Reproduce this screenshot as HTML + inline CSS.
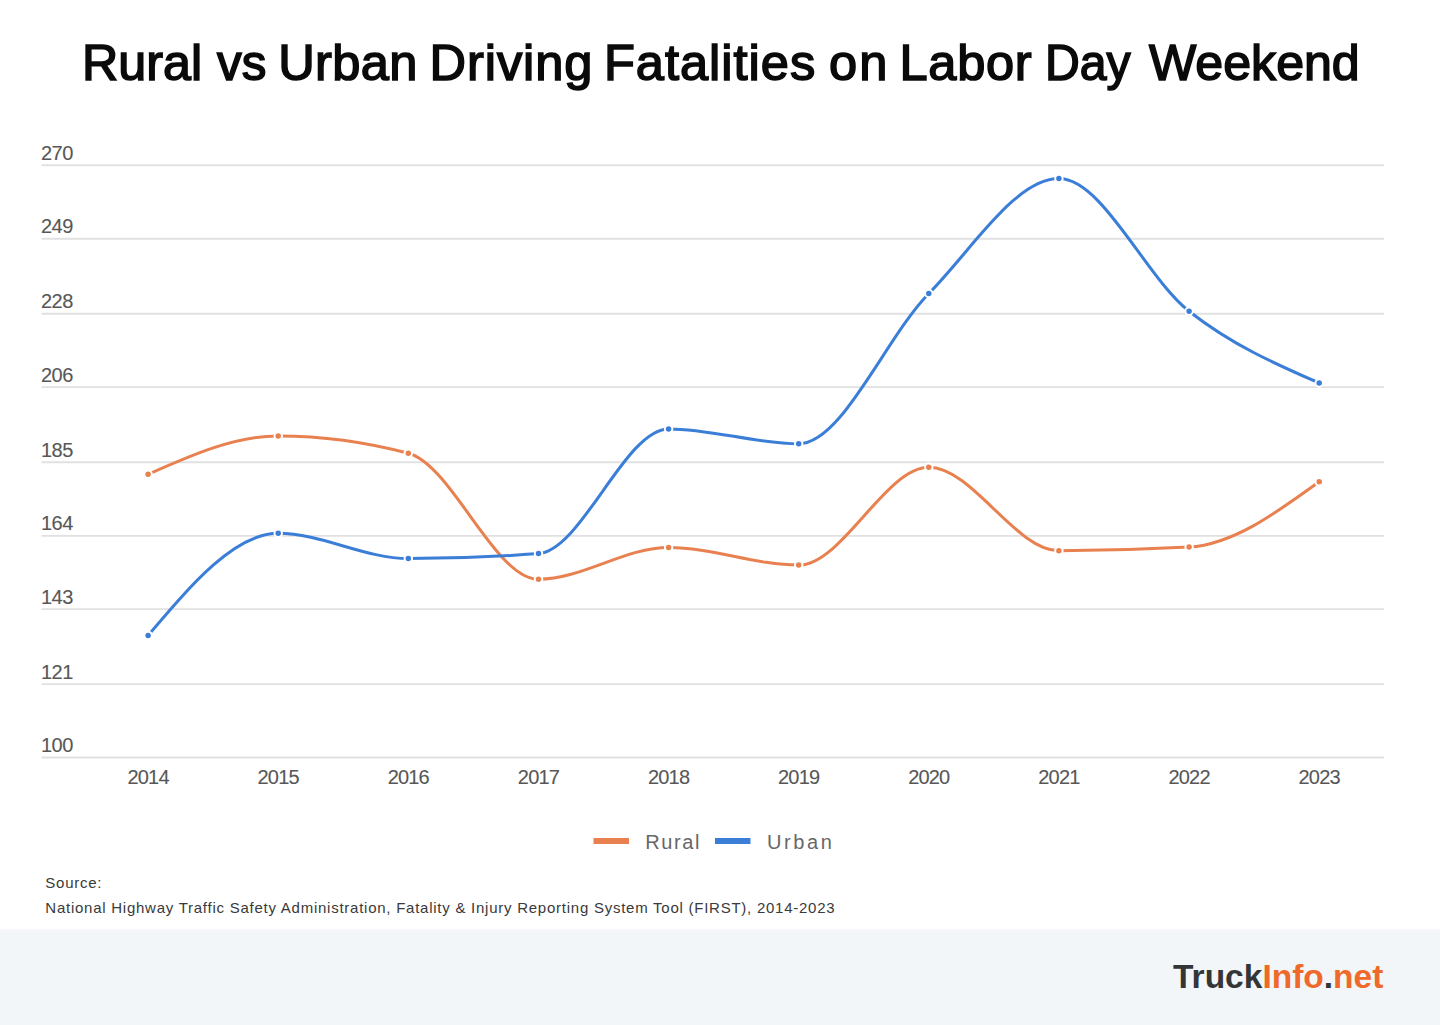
<!DOCTYPE html>
<html><head><meta charset="utf-8"><title>Rural vs Urban Driving Fatalities on Labor Day Weekend</title>
<style>
html,body{margin:0;padding:0;background:#fff;}
body{width:1440px;height:1025px;position:relative;overflow:hidden;font-family:"Liberation Sans",sans-serif;}
.title{position:absolute;left:0;width:1440px;top:37.6px;height:60px;font-size:50.6px;line-height:1;color:#0a0a0a;-webkit-text-stroke:1.6px #0a0a0a;white-space:nowrap;}
.title span{position:absolute;top:0;transform-origin:0 0;}
.yl{font-family:"Liberation Sans",sans-serif;font-size:20px;fill:#575757;letter-spacing:-0.5px;stroke:#575757;stroke-width:0.1px;}
.xl{font-family:"Liberation Sans",sans-serif;font-size:20px;fill:#575757;letter-spacing:-0.8px;stroke:#575757;stroke-width:0.1px;}
.leg{position:absolute;font-size:20px;line-height:1;color:#676767;white-space:nowrap;}
.src{position:absolute;left:45.3px;font-size:15px;line-height:1;color:#3a3a3a;white-space:nowrap;letter-spacing:0.75px;}
.footer{position:absolute;left:0;top:929px;width:1440px;height:96px;background:linear-gradient(#f6f8fb 0px,#f2f6f9 6px,#f2f6f9 100%);}
.logo{position:absolute;font-weight:bold;font-size:33.5px;line-height:1;white-space:nowrap;color:#343537;}
.logo .o{color:#ef6a2a;}
</style></head>
<body>
<div class="title" id="title"><span style="left:81.5px;transform:scaleX(0.993)">Rural</span><span style="left:217.25px;transform:scaleX(0.975)">vs</span><span style="left:278.25px;letter-spacing:0.31px">Urban</span><span style="left:429.5px;letter-spacing:0.92px">Driving</span><span style="left:604px;letter-spacing:0.97px">Fatalities</span><span style="left:829px;letter-spacing:2px">on</span><span style="left:899.5px;letter-spacing:0.69px">Labor</span><span style="left:1044.5px;transform:scaleX(0.952)">Day</span><span style="left:1148.5px;transform:scaleX(0.99)">Weekend</span></div>
<svg width="1440" height="930" viewBox="0 0 1440 930" style="position:absolute;left:0;top:0">
<line x1="41.5" y1="165.2" x2="1384" y2="165.2" stroke="#e1e1e1" stroke-width="1.9"/>
<line x1="41.5" y1="238.7" x2="1384" y2="238.7" stroke="#e1e1e1" stroke-width="1.9"/>
<line x1="41.5" y1="313.8" x2="1384" y2="313.8" stroke="#e1e1e1" stroke-width="1.9"/>
<line x1="41.5" y1="387.1" x2="1384" y2="387.1" stroke="#e1e1e1" stroke-width="1.9"/>
<line x1="41.5" y1="462.2" x2="1384" y2="462.2" stroke="#e1e1e1" stroke-width="1.9"/>
<line x1="41.5" y1="535.9" x2="1384" y2="535.9" stroke="#e1e1e1" stroke-width="1.9"/>
<line x1="41.5" y1="609.1" x2="1384" y2="609.1" stroke="#e1e1e1" stroke-width="1.9"/>
<line x1="41.5" y1="684.1" x2="1384" y2="684.1" stroke="#e1e1e1" stroke-width="1.9"/>
<line x1="41.5" y1="757.5" x2="1384" y2="757.5" stroke="#e1e1e1" stroke-width="1.9"/>
<text x="41" y="159.7" class="yl">270</text>
<text x="41" y="233.2" class="yl">249</text>
<text x="41" y="308.3" class="yl">228</text>
<text x="41" y="381.6" class="yl">206</text>
<text x="41" y="456.7" class="yl">185</text>
<text x="41" y="530.4" class="yl">164</text>
<text x="41" y="603.6" class="yl">143</text>
<text x="41" y="678.6" class="yl">121</text>
<text x="41" y="752.0" class="yl">100</text>
<text x="148.1" y="783.6" class="xl" text-anchor="middle">2014</text>
<text x="278.2" y="783.6" class="xl" text-anchor="middle">2015</text>
<text x="408.3" y="783.6" class="xl" text-anchor="middle">2016</text>
<text x="538.5" y="783.6" class="xl" text-anchor="middle">2017</text>
<text x="668.6" y="783.6" class="xl" text-anchor="middle">2018</text>
<text x="798.7" y="783.6" class="xl" text-anchor="middle">2019</text>
<text x="928.8" y="783.6" class="xl" text-anchor="middle">2020</text>
<text x="1058.9" y="783.6" class="xl" text-anchor="middle">2021</text>
<text x="1189.1" y="783.6" class="xl" text-anchor="middle">2022</text>
<text x="1319.2" y="783.6" class="xl" text-anchor="middle">2023</text>
<path d="M148.10,474.30 C191.47,455.10 234.85,435.90 278.22,435.90 C321.59,435.90 364.97,441.67 408.34,453.20 C451.71,464.73 495.09,579.30 538.46,579.30 C581.83,579.30 625.21,547.40 668.58,547.40 C711.95,547.40 755.33,565.10 798.70,565.10 C842.07,565.10 885.45,467.30 928.82,467.30 C972.19,467.30 1015.57,550.70 1058.94,550.70 C1102.31,550.70 1145.69,549.50 1189.06,547.10 C1232.43,544.70 1275.81,513.25 1319.18,481.80" fill="none" stroke="#e8804f" stroke-width="3" stroke-linejoin="round" stroke-linecap="round"/>
<path d="M148.10,635.40 C191.47,584.35 234.85,533.30 278.22,533.30 C321.59,533.30 364.97,558.60 408.34,558.60 C451.71,558.60 495.09,556.93 538.46,553.60 C581.83,550.27 625.21,428.90 668.58,428.90 C711.95,428.90 755.33,443.80 798.70,443.80 C842.07,443.80 885.45,337.70 928.82,293.50 C972.19,249.30 1015.57,178.60 1058.94,178.60 C1102.31,178.60 1145.69,277.13 1189.06,311.20 C1232.43,345.27 1275.81,364.13 1319.18,383.00" fill="none" stroke="#3b7ed8" stroke-width="3" stroke-linejoin="round" stroke-linecap="round"/>
<circle cx="148.1" cy="474.3" r="3.75" fill="#e8804f" stroke="#fff" stroke-width="2"/>
<circle cx="278.2" cy="435.9" r="3.75" fill="#e8804f" stroke="#fff" stroke-width="2"/>
<circle cx="408.3" cy="453.2" r="3.75" fill="#e8804f" stroke="#fff" stroke-width="2"/>
<circle cx="538.5" cy="579.3" r="3.75" fill="#e8804f" stroke="#fff" stroke-width="2"/>
<circle cx="668.6" cy="547.4" r="3.75" fill="#e8804f" stroke="#fff" stroke-width="2"/>
<circle cx="798.7" cy="565.1" r="3.75" fill="#e8804f" stroke="#fff" stroke-width="2"/>
<circle cx="928.8" cy="467.3" r="3.75" fill="#e8804f" stroke="#fff" stroke-width="2"/>
<circle cx="1058.9" cy="550.7" r="3.75" fill="#e8804f" stroke="#fff" stroke-width="2"/>
<circle cx="1189.1" cy="547.1" r="3.75" fill="#e8804f" stroke="#fff" stroke-width="2"/>
<circle cx="1319.2" cy="481.8" r="3.75" fill="#e8804f" stroke="#fff" stroke-width="2"/>
<circle cx="148.1" cy="635.4" r="3.75" fill="#3b7ed8" stroke="#fff" stroke-width="2"/>
<circle cx="278.2" cy="533.3" r="3.75" fill="#3b7ed8" stroke="#fff" stroke-width="2"/>
<circle cx="408.3" cy="558.6" r="3.75" fill="#3b7ed8" stroke="#fff" stroke-width="2"/>
<circle cx="538.5" cy="553.6" r="3.75" fill="#3b7ed8" stroke="#fff" stroke-width="2"/>
<circle cx="668.6" cy="428.9" r="3.75" fill="#3b7ed8" stroke="#fff" stroke-width="2"/>
<circle cx="798.7" cy="443.8" r="3.75" fill="#3b7ed8" stroke="#fff" stroke-width="2"/>
<circle cx="928.8" cy="293.5" r="3.75" fill="#3b7ed8" stroke="#fff" stroke-width="2"/>
<circle cx="1058.9" cy="178.6" r="3.75" fill="#3b7ed8" stroke="#fff" stroke-width="2"/>
<circle cx="1189.1" cy="311.2" r="3.75" fill="#3b7ed8" stroke="#fff" stroke-width="2"/>
<circle cx="1319.2" cy="383.0" r="3.75" fill="#3b7ed8" stroke="#fff" stroke-width="2"/>
<rect x="593.5" y="838" width="35.5" height="6" fill="#e8804f"/>
<rect x="715" y="838" width="35.5" height="6" fill="#3b7ed8"/>
</svg>
<div class="leg" id="lr" style="left:645.3px;top:832px;letter-spacing:1.6px;">Rural</div>
<div class="leg" id="lu" style="left:767px;top:832px;letter-spacing:2.6px;">Urban</div>
<div class="src" id="s1" style="top:875.4px;">Source:</div>
<div class="src" id="s2" style="top:899.6px;">National Highway Traffic Safety Administration, Fatality &amp; Injury Reporting System Tool (FIRST), 2014-2023</div>
<div class="footer"></div>
<div class="logo" id="logo" style="left:1173px;top:960.3px;">Truck<span class="o">Info</span>.<span class="o">net</span></div>
</body></html>
